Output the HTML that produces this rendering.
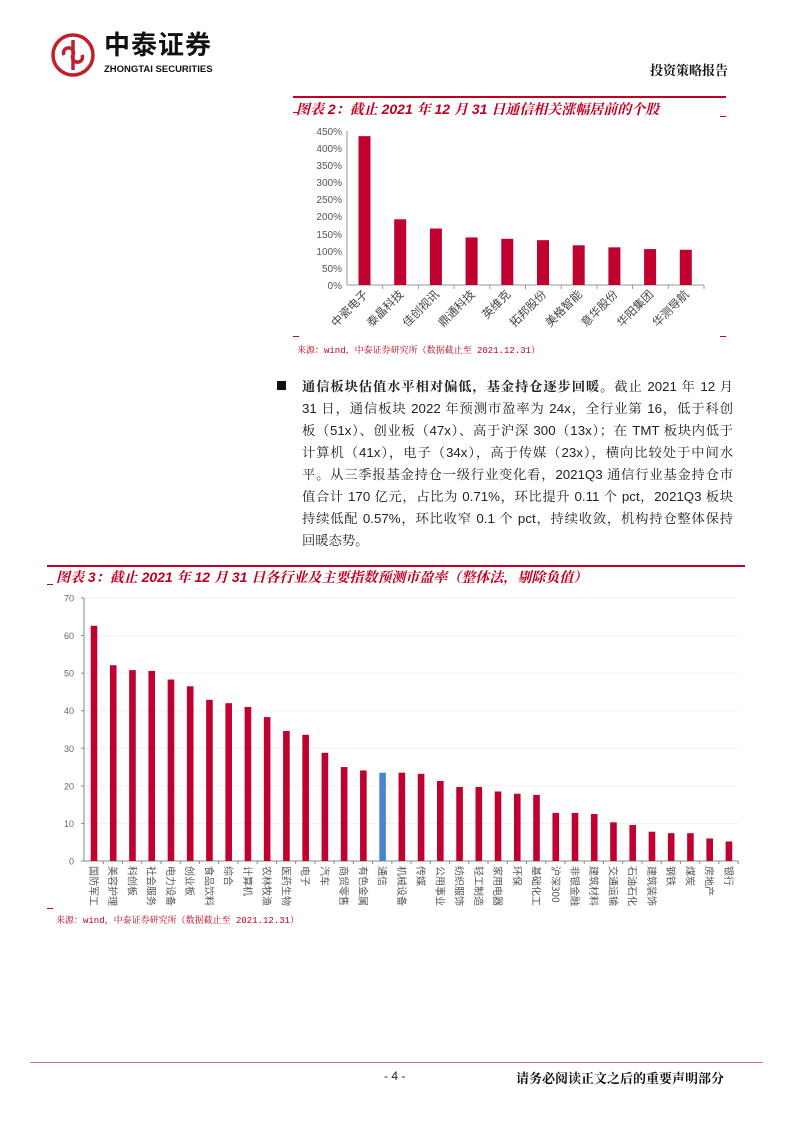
<!DOCTYPE html>
<html><head><meta charset="utf-8"><style>
body{margin:0;width:793px;height:1122px;background:#fff;position:relative;overflow:hidden;font-family:"Liberation Sans","Noto Sans CJK SC",sans-serif}
.a{position:absolute;white-space:nowrap}
.ln{position:absolute;left:302px;width:431px;font-size:13.3px;color:#222;text-align:justify;text-align-last:justify;line-height:22px;white-space:nowrap;font-family:"Liberation Sans","Noto Serif CJK SC",sans-serif}
</style></head><body>
<svg class="a" style="left:50px;top:32px" width="46" height="46" viewBox="0 0 46 46">
<circle cx="23" cy="23" r="20" fill="none" stroke="#c0202b" stroke-width="3.5"/>
<path d="M23 8 V38 M14 23 a5 5 0 1 1 9 0 a5 5 0 1 0 9 0" fill="none" stroke="#c0202b" stroke-width="3.5"/>
</svg>
<div class="a" style="left:104px;top:28px;font-size:26px;line-height:32px;font-weight:bold;color:#111;letter-spacing:1px;font-family:'Noto Sans CJK SC',sans-serif">中泰证券</div>
<div class="a" style="left:104px;top:64px;font-size:9.5px;font-weight:bold;color:#111">ZHONGTAI SECURITIES</div>
<div class="a" style="left:650px;top:60px;font-size:13px;font-weight:bold;color:#111;font-family:'Noto Serif CJK SC',serif">投资策略报告</div>

<div class="a" style="left:293px;top:96px;width:433px;height:2px;background:#c0001e"></div>
<div class="a" style="left:293px;top:112px;width:6px;height:1px;background:#c0001e"></div>
<div class="a" style="left:720px;top:116px;width:6px;height:1px;background:#c0001e"></div>
<div class="a" style="left:296px;top:99px;font-size:14px;font-weight:bold;font-style:italic;color:#c0001e;font-family:'Liberation Sans','Noto Serif CJK SC',serif">图表 2：截止 2021 年 12 月 31 日通信相关涨幅居前的个股</div>
<svg class="a" style="left:290px;top:120px" width="440" height="230">
<g font-size="10" fill="#555" text-anchor="end" font-family="Liberation Sans">
<text x="52" y="169">0%</text><text x="52" y="152">50%</text><text x="52" y="135">100%</text><text x="52" y="118">150%</text><text x="52" y="100">200%</text><text x="52" y="83">250%</text><text x="52" y="66">300%</text><text x="52" y="49">350%</text><text x="52" y="32">400%</text><text x="52" y="15">450%</text>
</g>
<line x1="57" y1="11" x2="57" y2="165" stroke="#999"/>
<line x1="57" y1="165" x2="414" y2="165" stroke="#999"/>
<g fill="#c0002f" id="b2"></g>
<g id="l2" font-size="11.5" fill="#444" font-family="Noto Sans CJK SC"></g>
</svg>
<div class="a" style="left:293px;top:336px;width:6px;height:1px;background:#c0001e"></div>
<div class="a" style="left:720px;top:336px;width:6px;height:1px;background:#c0001e"></div>
<div class="a" style="left:297px;top:343px;font-size:9px;color:#c0001e;font-family:'Liberation Mono','Noto Serif CJK SC',monospace">来源：wind，中泰证券研究所（数据截止至 2021.12.31）</div>

<div class="a" style="left:277px;top:381px;width:9px;height:9px;background:#111"></div>
<div class="ln" style="top:376px"><b>通信板块估值水平相对偏低，基金持仓逐步回暖。</b>截止 2021 年 12 月</div>
<div class="ln" style="top:398px">31 日，通信板块 2022 年预测市盈率为 24x，全行业第 16，低于科创</div>
<div class="ln" style="top:420px">板（51x）、创业板（47x）、高于沪深 300（13x）；在 TMT 板块内低于</div>
<div class="ln" style="top:442px">计算机（41x），电子（34x），高于传媒（23x），横向比较处于中间水</div>
<div class="ln" style="top:464px">平。从三季报基金持仓一级行业变化看，2021Q3 通信行业基金持仓市</div>
<div class="ln" style="top:486px">值合计 170 亿元，占比为 0.71%，环比提升 0.11 个 pct，2021Q3 板块</div>
<div class="ln" style="top:508px">持续低配 0.57%，环比收窄 0.1 个 pct，持续收敛，机构持仓整体保持</div>
<div class="ln" style="top:530px;text-align-last:left">回暖态势。</div>

<div class="a" style="left:47px;top:565px;width:698px;height:2px;background:#c0001e"></div>
<div class="a" style="left:47px;top:584px;width:6px;height:1px;background:#c0001e"></div>
<div class="a" style="left:56px;top:567px;font-size:14px;font-weight:bold;font-style:italic;color:#c0001e;font-family:'Liberation Sans','Noto Serif CJK SC',serif">图表 3：截止 2021 年 12 月 31 日各行业及主要指数预测市盈率（整体法，剔除负值）</div>
<svg class="a" style="left:0;top:590px" width="793" height="320">
<g id="g3"></g>
</svg>
<div class="a" style="left:47px;top:908px;width:6px;height:1px;background:#c0001e"></div>
<div class="a" style="left:56px;top:913px;font-size:9px;color:#c0001e;font-family:'Liberation Mono','Noto Serif CJK SC',monospace">来源：wind，中泰证券研究所（数据截止至 2021.12.31）</div>

<div class="a" style="left:30px;top:1062px;width:733px;height:1px;background:#c77"></div>
<div class="a" style="left:384px;top:1069px;font-size:12px;color:#222">- 4 -</div>
<div class="a" style="left:516px;top:1068px;font-size:13px;font-weight:bold;color:#111;font-family:'Noto Serif CJK SC',serif">请务必阅读正文之后的重要声明部分</div>

<script>
var ns="http://www.w3.org/2000/svg";
function el(p,t,a,txt){var e=document.createElementNS(ns,t);for(var k in a)e.setAttribute(k,a[k]);if(txt)e.textContent=txt;p.appendChild(e);return e;}
var v2=[435,192,165,139,135,131,116,110,105,103],n2=["中瓷电子","泰晶科技","佳创视讯","鼎通科技","英维克","拓邦股份","美格智能","意华股份","华阳集团","华测导航"];
var b2=document.getElementById("b2"),l2=document.getElementById("l2");
for(var i=0;i<10;i++){var cx=74.5+i*35.7,h=v2[i]*154/450;el(b2,"rect",{x:cx-6,y:165-h,width:12,height:h});
el(l2,"text",{x:0,y:0,"text-anchor":"end",transform:"translate("+(cx+4)+",175) rotate(-45)"},n2[i]);
el(l2,"line",{x1:57+(i+1)*35.7,y1:165,x2:57+(i+1)*35.7,y2:169,stroke:"#999"});}
var v3=[62.6,52.1,50.8,50.6,48.3,46.5,42.9,42,41,38.3,34.6,33.6,28.8,25,24.1,23.5,23.5,23.2,21.3,19.7,19.7,18.5,17.9,17.6,12.8,12.8,12.5,10.3,9.6,7.8,7.4,7.4,6,5.2];
var n3=["国防军工","美容护理","科创板","社会服务","电力设备","创业板","食品饮料","综合","计算机","农林牧渔","医药生物","电子","汽车","商贸零售","有色金属","通信","机械设备","传媒","公用事业","纺织服饰","轻工制造","家用电器","环保","基础化工","沪深300","非银金融","建筑材料","交通运输","石油石化","建筑装饰","钢铁","煤炭","房地产","银行"];
var g=document.getElementById("g3"),y0=271,s=263/70;
for(var k=0;k<=7;k++){var y=y0-k*10*s;if(k>0)el(g,"line",{x1:84,y1:y,x2:738,y2:y,stroke:"#f0f0f0"});
el(g,"text",{x:74,y:y+3.5,"text-anchor":"end","font-size":"9",fill:"#666","font-family":"Liberation Sans"},""+k*10);
el(g,"line",{x1:81,y1:y,x2:84,y2:y,stroke:"#888"});}
el(g,"line",{x1:84,y1:8,x2:84,y2:y0,stroke:"#888"});el(g,"line",{x1:84,y1:y0,x2:738,y2:y0,stroke:"#888"});
for(var i=0;i<34;i++){var cx=94+i*19.24,h=v3[i]*s;el(g,"rect",{x:cx-3.3,y:y0-h,width:6.6,height:h,fill:i==15?"#4a86d0":"#c0002f"});
el(g,"line",{x1:84+(i+1)*19.24,y1:y0,x2:84+(i+1)*19.24,y2:y0+3,stroke:"#888"});
el(g,"text",{x:0,y:0,"font-size":"10",fill:"#555","font-family":"Noto Sans CJK SC",transform:"translate("+(cx-4)+","+(y0+5)+") rotate(90)"},n3[i]);}
</script>
</body></html>
